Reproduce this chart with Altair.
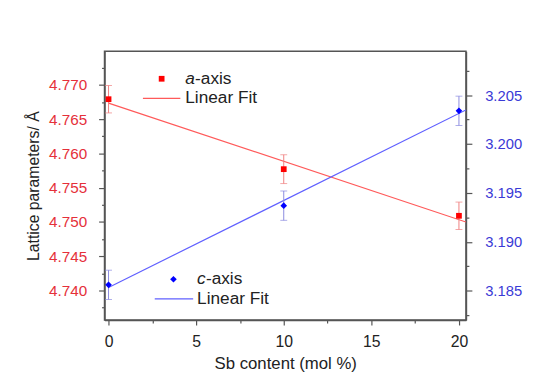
import altair as alt
import pandas as pd

# ---- data ----
sb_content = [0, 10, 20]
a_axis = [4.7679, 4.7577, 4.7509]
a_err = [0.0020, 0.0021, 0.0020]
c_axis = [3.1856, 3.1937, 3.2034]
c_err = [0.0015, 0.0015, 0.0015]

x_ticks = [0, 2.5, 5, 7.5, 10, 12.5, 15, 17.5, 20]
left_ticks = [4.7375, 4.740, 4.7425, 4.745, 4.7475, 4.750, 4.7525, 4.755,
              4.7575, 4.760, 4.7625, 4.765, 4.7675, 4.770, 4.7725]
right_ticks = [3.1825, 3.185, 3.1875, 3.190, 3.1925, 3.195, 3.1975, 3.200,
               3.2025, 3.205, 3.2075]

x_domain = [-0.23, 20.4]
left_domain = [4.7357, 4.7749]
right_domain = [3.1820, 3.2095]

RED = "#ff0000"
RED_LINE = "#ff5a5a"
RED_ERR = "#f08080"
RED_LABEL = "#e5303a"
BLUE = "#0000ff"
BLUE_LINE = "#6060ff"
BLUE_ERR = "#8a8ae0"
BLUE_LABEL = "#3a3ad6"
FRAME = "#555555"
FONT = "Liberation Sans"

df_a = pd.DataFrame({"x": sb_content, "y": a_axis, "err": a_err})
df_a["lo"] = df_a["y"] - df_a["err"]
df_a["hi"] = df_a["y"] + df_a["err"]
df_c = pd.DataFrame({"x": sb_content, "y": c_axis, "err": c_err})
df_c["lo"] = df_c["y"] - df_c["err"]
df_c["hi"] = df_c["y"] + df_c["err"]

x_enc = alt.X(
    "x:Q",
    scale=alt.Scale(domain=x_domain, nice=False, zero=False),
    axis=alt.Axis(
        values=x_ticks,
        title="Sb content (mol %)",
        labelExpr="datum.value % 5 == 0 ? datum.label : ''",
        tickSize={"condition": {"test": "datum.value % 5 == 0", "value": 5}, "value": 3},
        labelColor="#222222",
        labelFontSize=16,
        labelPadding=9,
        titlePadding=6,
        titleFontSize=17,
        grid=False,
    ),
)

left_scale = alt.Scale(domain=left_domain, nice=False, zero=False)
right_scale = alt.Scale(domain=right_domain, nice=False, zero=False)

left_axis = alt.Axis(
    values=left_ticks,
    format=".3f",
    orient="left",
    title="Lattice parameters/ Å",
    labelExpr="round(datum.value*1000) % 5 == 0 ? datum.label : ''",
    tickSize={"condition": {"test": "round(datum.value*1000) % 5 == 0", "value": 6}, "value": 3},
    labelColor=RED_LABEL,
    labelFontSize=15.5,
    labelPadding=12,
    titleFontSize=16,
    titlePadding=7,
    grid=False,
)
right_axis = alt.Axis(
    values=right_ticks,
    format=".3f",
    orient="right",
    title=None,
    labelExpr="round(datum.value*1000) % 5 == 0 ? datum.label : ''",
    tickSize={"condition": {"test": "round(datum.value*1000) % 5 == 0", "value": 6}, "value": 3},
    labelColor=BLUE_LABEL,
    labelFontSize=15,
    labelPadding=13,
    grid=False,
)


def group(df, scale, axis, col, line_col, err_col, shape, size):
    base = alt.Chart(df)
    err_rule = base.mark_rule(color=err_col, strokeWidth=1).encode(
        x=x_enc, y=alt.Y("lo:Q", scale=scale, axis=axis), y2="hi:Q"
    )
    cap_lo = base.mark_tick(color=err_col, orient="horizontal", size=7, thickness=1).encode(
        x=x_enc, y=alt.Y("lo:Q", scale=scale, axis=axis)
    )
    cap_hi = base.mark_tick(color=err_col, orient="horizontal", size=7, thickness=1).encode(
        x=x_enc, y=alt.Y("hi:Q", scale=scale, axis=axis)
    )
    fit = base.transform_regression("x", "y", extent=[0, 20.4]).mark_line(
        color=line_col, strokeWidth=1.2, clip=True
    ).encode(x=x_enc, y=alt.Y("y:Q", scale=scale, axis=axis))
    pts = base.mark_point(shape=shape, filled=True, size=size, color=col, opacity=1).encode(
        x=x_enc, y=alt.Y("y:Q", scale=scale, axis=axis)
    )
    return alt.layer(fit, err_rule, cap_lo, cap_hi, pts)


left = group(df_a, left_scale, left_axis, RED, RED_LINE, RED_ERR, "square", 34)
right = group(df_c, right_scale, right_axis, BLUE, BLUE_LINE, BLUE_ERR, "diamond", 45)

# ---- legend (layout only) ----
one = pd.DataFrame({"k": [0]})
lb = alt.Chart(one)
LFS = 17.5
legend = alt.layer(
    lb.mark_point(shape="square", filled=True, size=34, color=RED, opacity=1).encode(
        x=alt.value(58), y=alt.value(28)),
    lb.mark_text(text="a", fontStyle="italic", align="left", baseline="middle",
                 fontSize=LFS, font=FONT, color="#222").encode(x=alt.value(82), y=alt.value(28)),
    lb.mark_text(text="-axis", align="left", baseline="middle",
                 fontSize=LFS, font=FONT, color="#222").encode(x=alt.value(92), y=alt.value(28)),
    lb.mark_rule(color=RED_LINE, strokeWidth=1.2).encode(
        x=alt.value(39), x2=alt.value(77), y=alt.value(48)),
    lb.mark_text(text="Linear Fit", align="left", baseline="middle",
                 fontSize=LFS, font=FONT, color="#222").encode(x=alt.value(82), y=alt.value(48)),
    lb.mark_point(shape="diamond", filled=True, size=45, color=BLUE, opacity=1).encode(
        x=alt.value(70), y=alt.value(231.5)),
    lb.mark_text(text="c", fontStyle="italic", align="left", baseline="middle",
                 fontSize=LFS, font=FONT, color="#222").encode(x=alt.value(94), y=alt.value(231.5)),
    lb.mark_text(text="-axis", align="left", baseline="middle",
                 fontSize=LFS, font=FONT, color="#222").encode(x=alt.value(103), y=alt.value(231.5)),
    lb.mark_rule(color=BLUE_LINE, strokeWidth=1.2).encode(
        x=alt.value(51), x2=alt.value(90), y=alt.value(251.5)),
    lb.mark_text(text="Linear Fit", align="left", baseline="middle",
                 fontSize=LFS, font=FONT, color="#222").encode(x=alt.value(94), y=alt.value(251.5)),
)

chart = (
    alt.layer(left, right, legend)
    .resolve_scale(y="independent")
    .properties(
        width=367,
        height=273,
        autosize=alt.AutoSizeParams(type="none"),
        padding={"left": 98, "top": 41, "right": 63, "bottom": 57},
        background="white",
    )
    .configure_view(stroke=FRAME, strokeWidth=1.5)
    .configure_axis(
        labelFont=FONT,
        titleFont=FONT,
        titleFontWeight="normal",
        titleColor="#222222",
        domainColor=FRAME,
        domainWidth=1.5,
        tickColor=FRAME,
        tickWidth=1.2,
    )
)

chart.save("out.html", embed_options={"renderer": "svg", "actions": False})
